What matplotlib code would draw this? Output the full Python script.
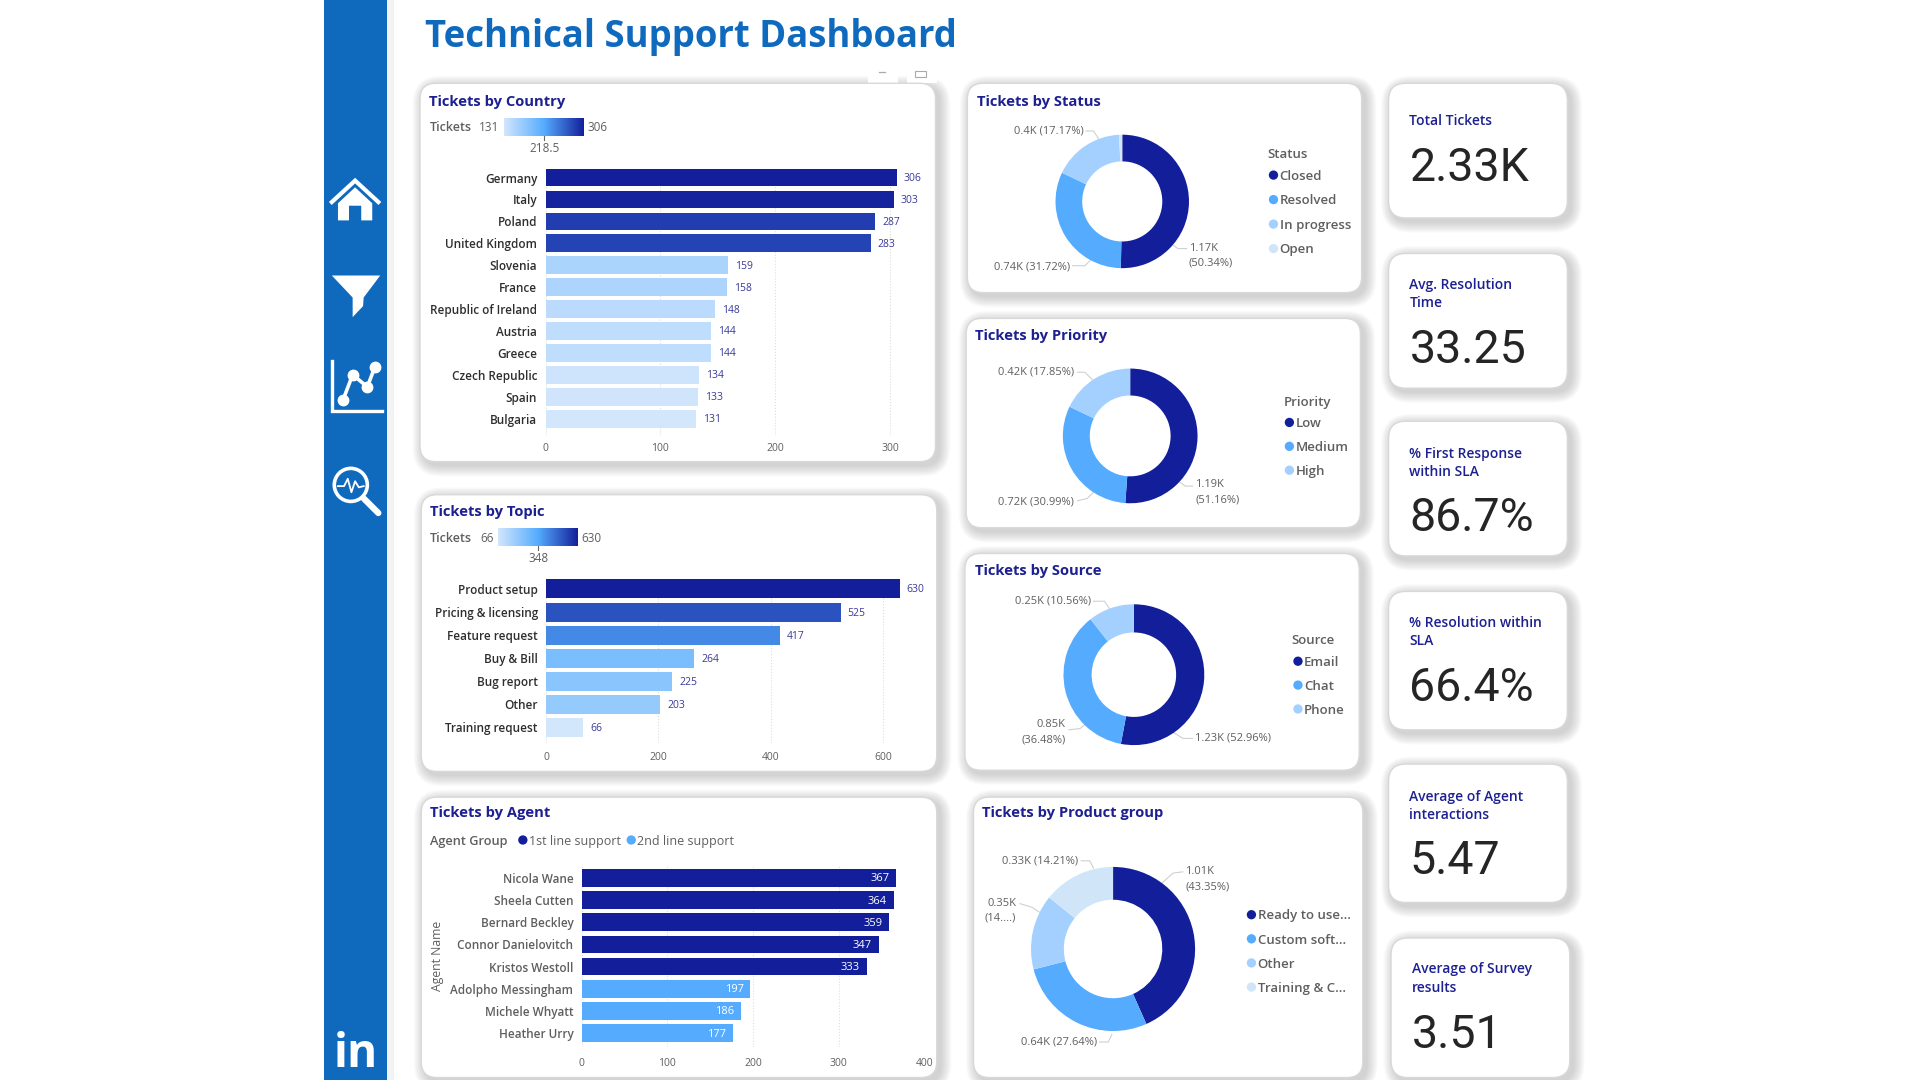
import numpy as np
from matplotlib import pyplot as plt
from matplotlib.colors import LinearSegmentedColormap, Normalize
from matplotlib.patches import Circle, FancyBboxPatch, Polygon, Rectangle

plt.rcParams['font.family'] = ['Open Sans', 'DejaVu Sans']

# data
countries = ["Germany", "Italy", "Poland", "United Kingdom", "Slovenia", "France",
             "Republic of Ireland", "Austria", "Greece", "Czech Republic", "Spain", "Bulgaria"]
country_tickets = [306, 303, 287, 283, 159, 158, 148, 144, 144, 134, 133, 131]
topics = ["Product setup", "Pricing & licensing", "Feature request", "Buy & Bill",
          "Bug report", "Other", "Training request"]
topic_tickets = [630, 525, 417, 264, 225, 203, 66]
agents = ["Nicola Wane", "Sheela Cutten", "Bernard Beckley", "Connor Danielovitch",
          "Kristos Westoll", "Adolpho Messingham", "Michele Whyatt", "Heather Urry"]
agent_tickets = [367, 364, 359, 347, 333, 197, 186, 177]
agent_group = [1, 1, 1, 1, 1, 2, 2, 2]

status_share = [50.34, 31.72, 17.17, 0.77]
priority_share = [51.16, 30.99, 17.85]
source_share = [52.96, 36.48, 10.56]
product_share = [43.35, 27.64, 14.80, 14.21]

kpi_titles = ["Total Tickets", "Avg. Resolution\nTime", "% First Response\nwithin SLA",
              "% Resolution within\nSLA", "Average of Agent\ninteractions", "Average of Survey\nresults"]
kpi_values = ["2.33K", "33.25", "86.7%", "66.4%", "5.47", "3.51"]

NAVY = "#131F9A"
MID = "#55ACFF"
LIGHT = "#A3D0FF"
PALE = "#D0E6F8"
BLUE = "#0F69BD"
TITLE = "#1C2090"
LABEL = "#2E2E2E"
GREY = "#5F5F5F"
VALUE = "#3A3A98"
donut_colors = [NAVY, MID, LIGHT, PALE]
cmap = LinearSegmentedColormap.from_list("tickets", ["#D2E6FC", MID, NAVY])

W, H = 1568, 882  # layout below is measured on the shrunk picture
fig = plt.figure(figsize=(19.2, 10.8), dpi=100, facecolor="white")
bg = fig.add_axes([0, 0, 1, 1], zorder=0)
bg.set_xlim(0, W)
bg.set_ylim(H, 0)
bg.axis("off")


def box_axes(left, top, right, bottom):
    ax = fig.add_axes([left / W, 1 - bottom / H, (right - left) / W, (bottom - top) / H], zorder=2)
    ax.patch.set_alpha(0)
    return ax


def label(x, y, s, size=8, color=LABEL, ha="left", weight="normal", va="center", **kw):
    bg.text(x, y + 1, s, fontsize=size, color=color, ha=ha, va=va, fontweight=weight, zorder=5, **kw)


def card(left, top, right, bottom, r=13):
    for i in range(10, 0, -1):
        bg.add_patch(FancyBboxPatch((left + r + 3, top + r + 3), right - left - 2 * r, bottom - top - 2 * r,
                                    boxstyle=f"round,pad={r + i * 0.9},rounding_size={r + i}",
                                    fc="#707070", ec="none", alpha=0.03, zorder=1))
    bg.add_patch(FancyBboxPatch((left + r, top + r), right - left - 2 * r, bottom - top - 2 * r,
                                boxstyle=f"round,pad={r},rounding_size={r}",
                                fc="white", ec="#D8D8D8", lw=1, zorder=2))


def bars(box, names, values, xmax, xticks, colors, inside=False, label_color=LABEL, x_pad=6):
    left, top, right, bottom, first, step, height = box
    ax = box_axes(left, top, right, bottom)
    pos = np.arange(len(names))
    ax.barh(pos, values, height=height / step, color=colors, edgecolor="none", zorder=2)
    ax.set_xlim(0, xmax)
    ax.set_ylim((bottom - first) / step, (top - first) / step)
    ax.set_yticks(pos, names, fontsize=8.5, color=label_color, fontweight="semibold")
    ax.set_xticks(xticks, [str(t) for t in xticks], fontsize=7.5, color=GREY)
    ax.tick_params(length=0, axis="y", pad=6)
    ax.tick_params(length=0, axis="x", pad=x_pad)
    ax.grid(axis="x", linestyle=":", color="#DDDDDD", lw=0.8, zorder=0)
    for s in ax.spines.values():
        s.set_visible(False)
    for p, v in zip(pos, values):
        if inside:
            ax.annotate(str(v), (v, p), xytext=(-5, -0.7), textcoords="offset points", ha="right", va="center",
                        fontsize=8, color="white")
        else:
            ax.annotate(str(v), (v, p), xytext=(5, -0.7), textcoords="offset points", ha="left", va="center",
                        fontsize=7.5, color=VALUE)
    return ax


def donut(cx, cy, r, share):
    ax = box_axes(cx - r, cy - r, cx + r, cy + r)
    ax.pie(share, colors=donut_colors, startangle=90, counterclock=False, radius=1,
           wedgeprops={"width": 0.4, "edgecolor": "none"})
    ax.set_xlim(-1, 1)
    ax.set_ylim(-1, 1)


def leader(*pts):
    xs, ys = zip(*pts)
    bg.plot(xs, ys, color="#D0D0D0", lw=0.8, zorder=4)


def legend_items(x, y0, step, names, size=9.5, title=None):
    if title:
        label(x - 5, y0 - step * 0.9, title, size=9.5, color=GREY, weight="semibold")
    for i, n in enumerate(names):
        bg.add_patch(Circle((x, y0 + i * step), 3.8, fc=donut_colors[i], ec="none", zorder=5))
        label(x + 5, y0 + i * step, n, size=size, color=GREY, weight="semibold")


def gradient_legend(left, right, top, bottom, low, high, mid, title_x):
    ax = box_axes(left, top, right, bottom)
    ax.imshow(np.linspace(0, 1, 256)[None, :], aspect="auto", cmap=cmap, norm=Normalize(0, 1))
    ax.axis("off")
    label(title_x, (top + bottom) / 2, "Tickets", size=9, color=GREY, weight="semibold")
    label(left - 4, (top + bottom) / 2, low, size=8.5, color=GREY, ha="right")
    label(right + 3, (top + bottom) / 2, high, size=8.5, color=GREY)
    c = (left + right) / 2
    bg.plot([c, c], [top, bottom + 3], color="#666666", lw=0.8, zorder=6)
    label(c, bottom + 9, mid, size=8.5, color=GREY, ha="center")


# sidebar
bg.add_patch(Rectangle((265, 0), 51, H, fc=BLUE, ec="none", zorder=3))
bg.add_patch(Rectangle((316, 0), 6, H, fc="#F3F3F3", ec="none", zorder=0.5))

# home icon
bg.plot([271, 290, 309], [165, 147.5, 165], color="white", lw=3, solid_joinstyle="miter", zorder=4)
bg.add_patch(Polygon([(290, 153), (304, 166), (304, 180), (295, 180), (295, 168), (285, 168),
                      (285, 180), (276, 180), (276, 166)], fc="white", ec="none", zorder=4))
# funnel icon
bg.add_patch(Polygon([(271, 225), (310.5, 225), (297, 243), (296.5, 250), (288, 259), (288, 243)],
                     fc="white", ec="none", zorder=4))
# chart icon
bg.plot([271, 271, 312], [295, 336, 336], color="white", lw=2.4, solid_joinstyle="miter", zorder=4)
bg.plot([280, 288, 300, 306], [327, 306, 316, 300], color="white", lw=2.6, marker="o", ms=7.5, zorder=4)
# magnifier icon
bg.add_patch(Circle((286.5, 396), 13.5, fc="none", ec="white", lw=2.6, zorder=4))
bg.plot([297, 309], [407, 419], color="white", lw=4.5, solid_capstyle="round", zorder=4)
bg.plot([276, 281, 284, 287, 290, 293, 297], [397, 397, 391, 402, 393, 398, 397], color="white", lw=1.3, zorder=4)
# linkedin text
label(290.5, 860, "in", size=33, color="white", ha="center", weight="bold")

label(347, 29, "Technical Support Dashboard", size=26.3, color=BLUE, weight="bold")

# small visual header icons above the country card
for x in (709, 741):
    bg.add_patch(Rectangle((x, 55), 24, 13, fc="white", ec="none", zorder=1.5))
bg.plot([718, 723], [59, 59], color="#AAAAAA", lw=0.9, zorder=1.6)
bg.add_patch(Rectangle((747, 58), 9, 5, fc="none", ec="#AAAAAA", lw=0.8, zorder=1.6))

# chart cards
panels = [(343, 68, 764, 377, "Tickets by Country", 350, 82),
          (344, 404, 765, 630, "Tickets by Topic", 351, 417),
          (344, 651, 765, 880, "Tickets by Agent", 351, 663),
          (790, 68, 1112, 239, "Tickets by Status", 798, 82),
          (789, 260, 1111, 431, "Tickets by Priority", 796, 273),
          (788, 452, 1110, 629, "Tickets by Source", 796, 465),
          (795, 651, 1113, 880, "Tickets by Product group", 802, 663)]
for l, t, r, b, name, tx, ty in panels:
    card(l, t, r, b)
    label(tx, ty, name, size=10.6, color=TITLE, weight="bold")

# country bars
norm = Normalize(min(country_tickets), max(country_tickets))
ax = bars((445.5, 136, 445.5 + 0.938 * 320, 355, 145, 17.9, 14.5), countries, country_tickets, 320,
          [0, 100, 200, 300], [cmap(norm(v)) for v in country_tickets])
gradient_legend(412, 477, 96, 111, "131", "306", "218.5", 351)

# topic bars
norm = Normalize(min(topic_tickets), max(topic_tickets))
ax = bars((446, 472, 446 + 0.4583 * 680, 607, 481, 18.83, 15.5), topics, topic_tickets, 680,
          [0, 200, 400, 600], [cmap(norm(v)) for v in topic_tickets])
gradient_legend(407, 472, 431, 446, "66", "630", "348", 351)

# agent bars
ax = bars((475, 707, 755, 855, 717, 18.1, 14.5), agents, agent_tickets, 400, [0, 100, 200, 300, 400],
          [NAVY if g == 1 else MID for g in agent_group], inside=True, label_color=GREY, x_pad=8)
label(357, 780, "Agent Name", size=8.8, color=GREY, ha="center", rotation=90)
label(351, 686, "Agent Group", size=9.2, color=GREY, weight="semibold")
bg.add_patch(Circle((427, 686), 3.8, fc=NAVY, ec="none", zorder=5))
label(432, 686, "1st line support", size=9, color=GREY)
bg.add_patch(Circle((515.5, 686), 3.8, fc=MID, ec="none", zorder=5))
label(520, 686, "2nd line support", size=9, color=GREY)

# donuts
donut(916.5, 164.5, 54.5, status_share)
label(828, 106, "0.4K (17.17%)", size=8, color=GREY)
leader((887, 107), (893, 107), (897, 113))
label(812, 217, "0.74K (31.72%)", size=8, color=GREY)
leader((876, 217), (886, 217), (892, 211))
label(971, 202, "1.17K", size=8, color=GREY)
label(971, 214, "(50.34%)", size=8, color=GREY)
leader((969, 203), (962, 203), (955, 198))
legend_items(1040, 143, 20, ["Closed", "Resolved", "In progress", "Open"], title="Status")

donut(923, 356, 55, priority_share)
label(815, 303, "0.42K (17.85%)", size=8, color=GREY)
leader((880, 304), (886, 304), (892, 310))
label(815, 409, "0.72K (30.99%)", size=8, color=GREY)
leader((880, 409), (888, 407), (893, 402))
label(976, 395, "1.19K", size=8, color=GREY)
label(976, 407, "(51.16%)", size=8, color=GREY)
leader((974, 397), (968, 397), (961, 392))
legend_items(1053, 345, 19.5, ["Low", "Medium", "High"], title="Priority")

donut(926, 551, 57.5, source_share)
label(829, 490, "0.25K (10.56%)", size=8, color=GREY)
leader((893, 491), (902, 491), (906, 497))
label(870, 591, "0.85K", size=8, color=GREY, ha="right")
label(870, 603, "(36.48%)", size=8, color=GREY, ha="right")
leader((873, 596), (882, 595), (888, 590))
label(976, 602, "1.23K (52.96%)", size=8, color=GREY)
leader((974, 603), (966, 603), (958, 598))
legend_items(1060, 540, 19.5, ["Email", "Chat", "Phone"], title="Source")

donut(909, 775, 67, product_share)
label(818, 702, "0.33K (14.21%)", size=8, color=GREY)
leader((883, 703), (890, 703), (893, 709))
label(968, 711, "1.01K", size=8, color=GREY)
label(968, 723, "(43.35%)", size=8, color=GREY)
leader((966, 712), (958, 713), (948, 722))
label(830, 737, "0.35K", size=8, color=GREY, ha="right")
label(830, 749, "(14....)", size=8, color=GREY, ha="right")
leader((833, 738), (843, 741), (849, 745))
label(834, 850, "0.64K (27.64%)", size=8, color=GREY)
leader((898, 851), (905, 851), (908, 845))
legend_items(1022, 747, 19.7, ["Ready to use...", "Custom soft...", "Other", "Training & C..."])

# kpi cards
kpi_boxes = [(1134, 68, 1280, 178), (1134, 207, 1280, 317), (1134, 344, 1280, 454),
             (1134, 483, 1280, 596), (1134, 624, 1280, 737), (1136, 766, 1282, 880)]
kpi_title_y = [98, 239, 377, 515, 657, 798]
kpi_value_y = [136, 285, 422, 561, 702, 844]
for box, name, val, ty, vy in zip(kpi_boxes, kpi_titles, kpi_values, kpi_title_y, kpi_value_y):
    l, t, r, b = box
    card(l, t, r, b, r=14)
    label(l + 17, ty, name, size=10, color=TITLE, weight="semibold", linespacing=1.4)
    label(l + 17, vy, val, size=33.5, color="#252525", family=["Roboto", "DejaVu Sans"])

fig.savefig("out.png", dpi=100)
